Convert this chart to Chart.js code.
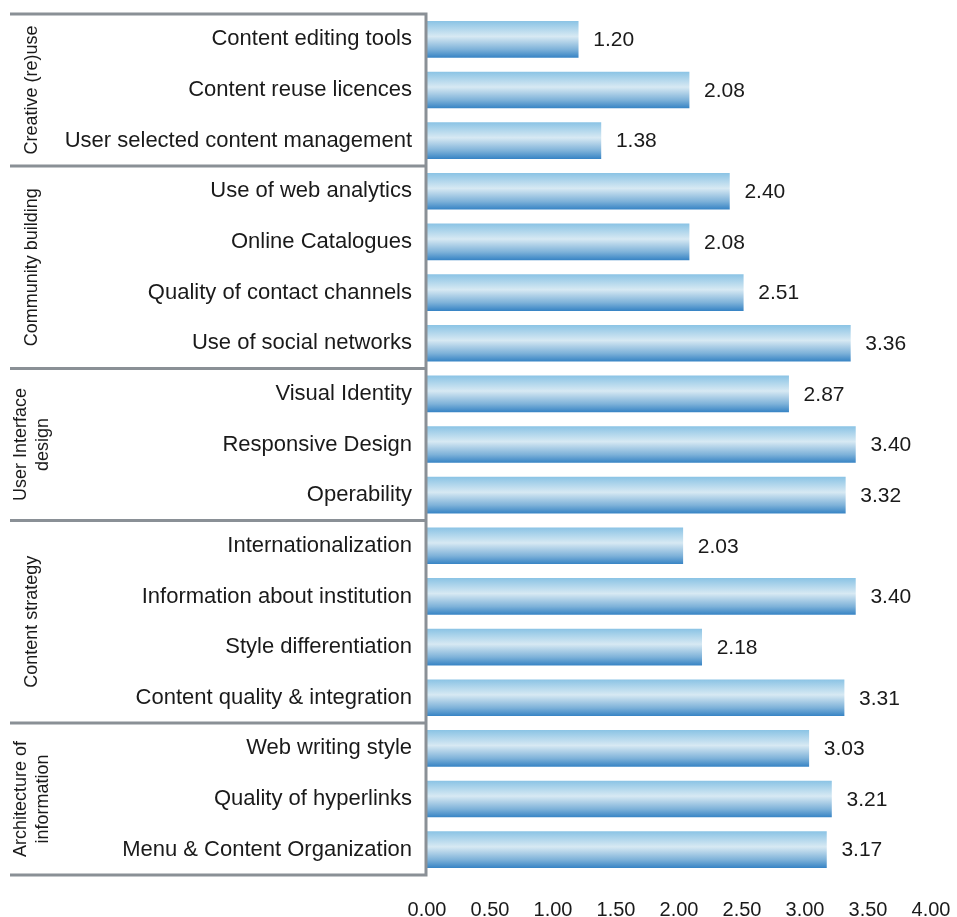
<!DOCTYPE html>
<html>
<head>
<meta charset="utf-8">
<script src="https://cdn.jsdelivr.net/npm/chart.js@4"></script>
<style>
  html, body { margin: 0; padding: 0; background: #fff; }
  #wrap { width: 957px; height: 917px; position: relative; }
</style>
</head>
<body>
<div id="wrap"><canvas id="chart"></canvas></div>
<script>
const categories = [
    'Content editing tools', 'Content reuse licences', 'User selected content management',
    'Use of web analytics', 'Online Catalogues', 'Quality of contact channels', 'Use of social networks',
    'Visual Identity', 'Responsive Design', 'Operability',
    'Internationalization', 'Information about institution', 'Style differentiation', 'Content quality & integration',
    'Web writing style', 'Quality of hyperlinks', 'Menu & Content Organization'
];
const scores = [1.20, 2.08, 1.38, 2.40, 2.08, 2.51, 3.36, 2.87, 3.40, 3.32, 2.03, 3.40, 2.18, 3.31, 3.03, 3.21, 3.17];

// groups, top to bottom: label lines + number of categories
const groupNames = [['Creative (re)use'], ['Community building'], ['User Interface', 'design'], ['Content strategy'], ['Architecture of', 'information']];
const groupSizes = [3, 4, 3, 4, 3];

const xTicks = { min: 0, max: 4, step: 0.5 };

const FONT = '"Liberation Sans", Arial, sans-serif';
const LINE = '#8a9096';
const BAR_H = 36;

const barGradient = (ctx) => {
    const chart = ctx.chart;
    const yScale = chart.scales.y;
    if (!yScale || ctx.dataIndex === undefined) return '#8cc3e4';
    const c = yScale.getPixelForValue(ctx.dataIndex);
    if (!isFinite(c)) return '#8cc3e4';
    const g = chart.ctx.createLinearGradient(0, c - BAR_H / 2, 0, c + BAR_H / 2);
    g.addColorStop(0, '#8cc4e5');
    g.addColorStop(0.42, '#d7e9f3');
    g.addColorStop(0.78, '#7eb2d9');
    g.addColorStop(1, '#3985c5');
    return g;
};

// separators, group labels and value labels
const decorations = {
    id: 'decorations',
    afterDatasetsDraw(chart) {
        const { ctx, chartArea, scales: { x, y } } = chart;
        const step = (y.getPixelForValue(1) - y.getPixelForValue(0));
        const top = y.getPixelForValue(0) - step / 2;
        ctx.save();

        // value labels
        ctx.font = '21px ' + FONT;
        ctx.fillStyle = '#1a1a1a';
        ctx.textAlign = 'left';
        ctx.textBaseline = 'middle';
        scores.forEach((v, i) => {
            ctx.fillText(v.toFixed(2), x.getPixelForValue(v) + 15, y.getPixelForValue(i) + 1);
        });

        // frame lines
        ctx.strokeStyle = LINE;
        ctx.lineWidth = 3;
        const left = chartArea.left - 1;
        let idx = 0;
        const bounds = [top];
        groupSizes.forEach(n => { idx += n; bounds.push(top + idx * step); });
        ctx.beginPath();
        bounds.forEach(b => { ctx.moveTo(10, b); ctx.lineTo(left, b); });
        ctx.moveTo(left, bounds[0] - 1.5);
        ctx.lineTo(left, bounds[bounds.length - 1] + 1.5);
        ctx.stroke();

        // rotated group names
        ctx.font = '18px ' + FONT;
        ctx.textAlign = 'center';
        ctx.textBaseline = 'middle';
        groupNames.forEach((lines, g) => {
            const mid = (bounds[g] + bounds[g + 1]) / 2;
            const lh = 22;
            const cx = 32;
            lines.forEach((txt, k) => {
                const off = (k - (lines.length - 1) / 2) * lh;
                ctx.save();
                ctx.translate(cx + off, mid);
                ctx.rotate(-Math.PI / 2);
                ctx.fillText(txt, 0, 0);
                ctx.restore();
            });
        });
        ctx.restore();
    }
};

new Chart(document.getElementById('chart'), {
    type: 'bar',
    data: {
        labels: categories,
        datasets: [{
            data: scores,
            backgroundColor: barGradient,
            borderWidth: 0,
            barThickness: BAR_H
        }]
    },
    options: {
        indexAxis: 'y',
        responsive: true,
        maintainAspectRatio: false,
        animation: false,
        layout: { padding: { top: 14, right: 26, bottom: 0, left: 0 } },
        plugins: { legend: { display: false }, tooltip: { enabled: false } },
        scales: {
            x: {
                min: xTicks.min,
                max: xTicks.max,
                grid: { display: false, drawTicks: false },
                border: { display: false },
                afterFit: (scale) => {
                    scale.height = 42;
                    scale.paddingLeft = 0;
                    scale.paddingRight = 0;
                },
                ticks: {
                    stepSize: xTicks.step,
                    padding: 23,
                    color: '#1a1a1a',
                    font: { family: FONT, size: 20 },
                    maxRotation: 0,
                    callback: (v) => Number(v).toFixed(2)
                }
            },
            y: {
                grid: { display: false, drawTicks: false },
                border: { display: false },
                afterFit: (scale) => {
                    scale.width = 427;
                    scale.paddingTop = 0;
                    scale.paddingBottom = 0;
                },
                ticks: {
                    padding: 15,
                    color: '#1a1a1a',
                    font: { family: FONT, size: 22 },
                    autoSkip: false
                }
            }
        }
    },
    plugins: [decorations]
});
</script>
</body>
</html>
